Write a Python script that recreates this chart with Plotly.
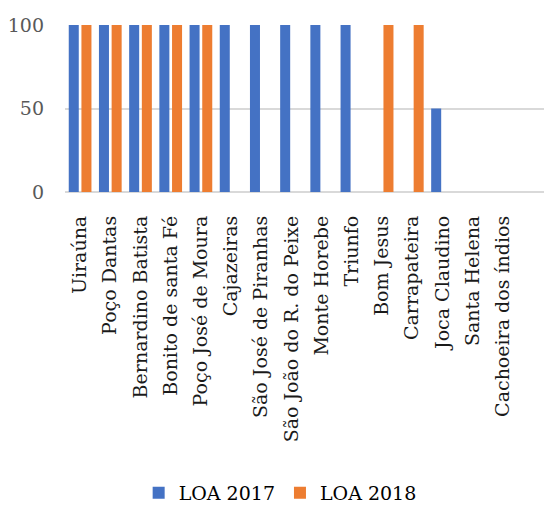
import plotly.graph_objects as go

municipios = [
    "Uiraúna", "Poço Dantas", "Bernardino Batista", "Bonito de santa Fé",
    "Poço José de Moura", "Cajazeiras", "São José de Piranhas",
    "São João do R. do Peixe", "Monte Horebe", "Triunfo", "Bom Jesus",
    "Carrapateira", "Joca Claudino", "Santa Helena", "Cachoeira dos índios",
]
loa_2017 = [100, 100, 100, 100, 100, 100, 100, 100, 100, 100, 0, 0, 50, 0, 0]
loa_2018 = [100, 100, 100, 100, 100, 0, 0, 0, 0, 0, 100, 100, 0, 0, 0]
y_ticks = [0, 50, 100]

FONT = "DejaVu Serif"
SIZE = 19

fig = go.Figure()
fig.add_trace(go.Bar(name="LOA 2017", x=municipios, y=loa_2017,
                     marker=dict(color="#4472C4", line=dict(width=0))))
fig.add_trace(go.Bar(name="LOA 2018", x=municipios, y=loa_2018,
                     marker=dict(color="#ED7D31", line=dict(width=0))))

fig.update_layout(
    width=544, height=505,
    margin=dict(l=65, r=0, t=25, b=313),
    paper_bgcolor="white", plot_bgcolor="white",
    barmode="group", bargap=0.16, bargroupgap=0.21,
    font=dict(family=FONT, size=SIZE, color="#000000"),
    legend=dict(orientation="h", xref="container", x=0.515, xanchor="center",
                yref="container", y=0.024, yanchor="middle",
                font=dict(family=FONT, size=SIZE, color="#000000"),
                itemclick=False),
    xaxis=dict(
        range=[-0.5, len(municipios) - 0.5 + 0.86],
        tickangle=-90, showgrid=False, showline=False, ticks="",
        tickfont=dict(family=FONT, size=SIZE, color="#1a1a1a"),
        ticklabelstandoff=19,
    ),
    yaxis=dict(
        range=[0, 100], tickvals=y_ticks, showgrid=True,
        gridcolor="#d9d9d9", gridwidth=1.5, zeroline=True,
        zerolinecolor="#d9d9d9", zerolinewidth=1.5, showline=False,
        ticks="", tickfont=dict(family=FONT, size=SIZE, color="#595959"),
        ticklabelstandoff=20,
    ),
)

fig.write_html("out.html")
